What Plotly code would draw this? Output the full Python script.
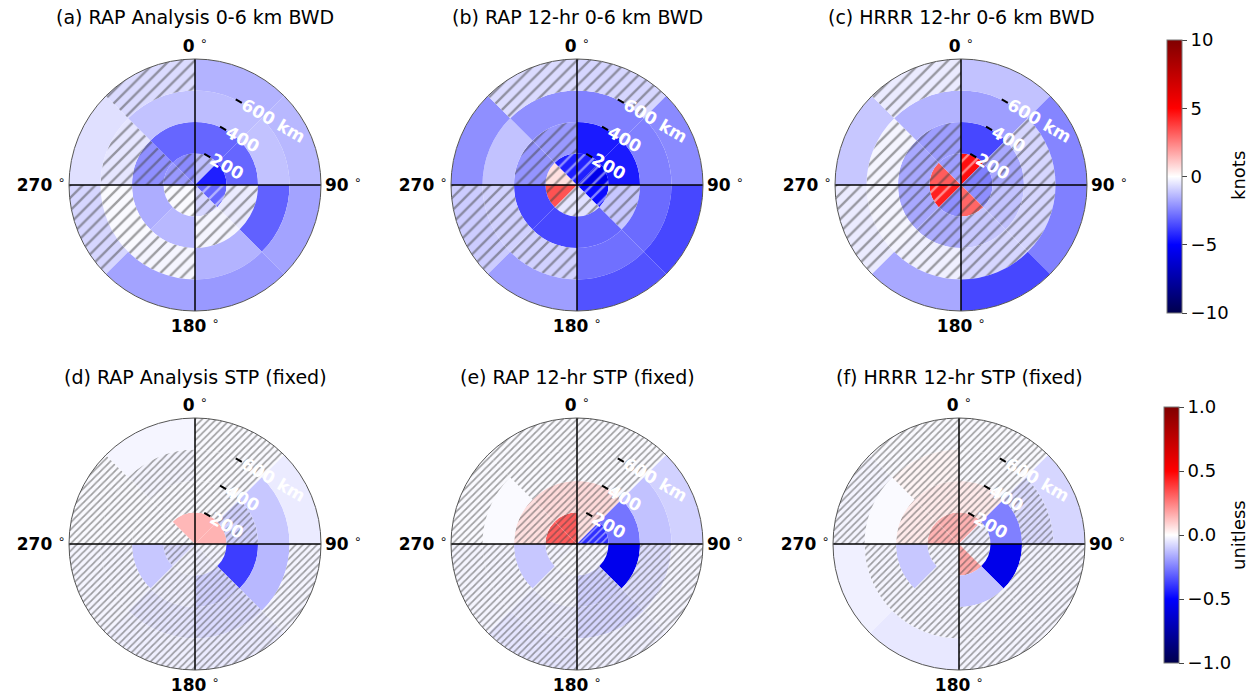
import plotly.graph_objects as go

W, H = 1258, 694

# Radial bins (km) and compass sectors (deg clockwise from north)
RING_EDGES_KM = [0, 200, 400, 600, 800]
SECTOR_CENTERS_DEG = [22.5, 67.5, 112.5, 157.5, 202.5, 247.5, 292.5, 337.5]
SECTOR_WIDTH_DEG = 45
RADIAL_TICKS = [200, 400, 600]
RADIAL_TICKTEXT = ["200", "400", "600 km"]
ANGLE_TICKS = [0, 90, 180, 270]

# Composite differences; rows = rings (inner -> outer), columns = sectors (N, clockwise)
bwd_rap_anl = [
    [-1.3, -4.4, -3.0, -0.8, -0.1, -0.1, -2.0, -2.3],
    [-3.0, -3.0, -0.4, -0.2, -1.4, -1.6, -2.2, -3.0],
    [-1.3, -1.2, -3.1, -1.5, -0.2, -0.1, -0.5, -1.2],
    [-1.5, -1.4, -1.8, -2.0, -1.8, -0.8, -0.6, -0.7],
]
bwd_rap_12h = [
    [-4.4, -5.6, -4.8, -0.6, -0.5, 3.4, 0.6, -4.4],
    [-4.5, -4.5, -1.1, -3.0, -3.6, -3.6, -2.1, -2.0],
    [-2.5, -2.5, -2.9, -2.8, -0.9, -0.9, -1.2, -2.2],
    [-0.8, -2.3, -3.6, -3.4, -1.9, -1.0, -2.2, -0.7],
]
bwd_hrrr_12h = [
    [4.7, -2.5, -2.2, 3.0, -2.2, 4.4, 3.2, -1.9],
    [-3.6, -1.7, -1.2, -1.1, -1.6, -1.7, -1.7, -1.9],
    [-1.9, -0.8, -0.8, -0.8, -0.3, -0.2, -0.2, -1.5],
    [-1.2, -2.4, -2.5, -3.6, -1.7, -0.4, -1.1, -0.4],
]
stp_rap_anl = [
    [0.15, 0.15, -0.02, -0.03, -0.02, -0.07, -0.01, 0.14],
    [-0.01, -0.09, -0.38, -0.09, -0.03, -0.11, -0.01, -0.01],
    [-0.01, -0.11, -0.14, -0.07, -0.05, -0.02, -0.01, -0.02],
    [-0.01, -0.04, -0.02, -0.04, -0.03, -0.02, -0.01, -0.02],
]
stp_rap_12h = [
    [0.06, -0.41, -0.02, -0.02, -0.01, -0.02, 0.32, 0.32],
    [0.07, -0.27, -0.55, -0.09, -0.02, -0.11, 0.06, 0.07],
    [-0.01, -0.12, -0.06, -0.08, -0.04, -0.02, -0.01, -0.01],
    [-0.01, -0.09, -0.02, -0.03, -0.05, -0.02, -0.01, -0.01],
]
stp_hrrr_12h = [
    [0.15, -0.03, -0.02, 0.17, -0.02, -0.02, 0.15, 0.15],
    [0.04, -0.25, -0.56, -0.12, -0.02, -0.11, 0.04, 0.04],
    [-0.01, -0.07, -0.02, -0.02, -0.02, -0.02, -0.01, 0.02],
    [-0.01, -0.08, -0.02, -0.02, -0.045, -0.03, -0.02, -0.01],
]

# 1 = difference not significant (hatched)
bwd_rap_anl_ns = [
    [1, 0, 1, 1, 1, 1, 1, 1],
    [0, 0, 1, 1, 0, 0, 1, 0],
    [0, 0, 0, 0, 1, 1, 1, 0],
    [0, 0, 0, 0, 0, 1, 0, 1],
]
bwd_rap_12h_ns = [
    [1, 1, 1, 1, 1, 1, 1, 1],
    [0, 0, 1, 0, 0, 0, 1, 1],
    [0, 0, 0, 0, 1, 1, 0, 0],
    [1, 0, 0, 0, 0, 1, 0, 1],
]
bwd_hrrr_12h_ns = [
    [1, 1, 1, 1, 1, 1, 1, 1],
    [0, 1, 1, 1, 1, 1, 1, 1],
    [0, 1, 1, 1, 1, 1, 1, 0],
    [0, 0, 0, 0, 0, 1, 0, 1],
]
stp_rap_anl_ns = [
    [0, 0, 1, 1, 1, 1, 1, 0],
    [1, 1, 0, 1, 1, 0, 1, 1],
    [1, 0, 0, 1, 1, 1, 1, 1],
    [1, 0, 1, 1, 1, 1, 1, 0],
]
stp_rap_12h_ns = [
    [1, 1, 1, 1, 1, 1, 1, 1],
    [1, 0, 0, 1, 1, 0, 1, 1],
    [1, 0, 1, 1, 1, 1, 0, 1],
    [1, 0, 1, 1, 1, 1, 1, 1],
]
stp_hrrr_12h_ns = [
    [1, 1, 1, 1, 1, 1, 1, 1],
    [1, 0, 0, 0, 1, 0, 1, 1],
    [1, 1, 1, 1, 1, 1, 0, 1],
    [1, 0, 1, 1, 0, 0, 1, 1],
]

SEISMIC = [
    [0.0, "rgb(0,0,77)"],
    [0.25, "rgb(0,0,255)"],
    [0.5, "rgb(255,255,255)"],
    [0.75, "rgb(255,0,0)"],
    [1.0, "rgb(128,0,0)"],
]

FONT = "DejaVu Sans"

# title, values, hatch mask, colour axis, centre (px), hatch spacing, hatch weight
panels = [
    ("(a) RAP Analysis 0-6 km BWD", bwd_rap_anl, bwd_rap_anl_ns, "coloraxis", 195, 185, 9, 0.26),
    ("(b) RAP 12-hr 0-6 km BWD", bwd_rap_12h, bwd_rap_12h_ns, "coloraxis", 577, 185, 9, 0.26),
    ("(c) HRRR 12-hr 0-6 km BWD", bwd_hrrr_12h, bwd_hrrr_12h_ns, "coloraxis", 961, 185, 9, 0.26),
    ("(d) RAP Analysis STP (fixed)", stp_rap_anl, stp_rap_anl_ns, "coloraxis2", 195, 544, 5, 0.34),
    ("(e) RAP 12-hr STP (fixed)", stp_rap_12h, stp_rap_12h_ns, "coloraxis2", 577, 544, 5, 0.34),
    ("(f) HRRR 12-hr STP (fixed)", stp_hrrr_12h, stp_hrrr_12h_ns, "coloraxis2", 959, 544, 5, 0.34),
]

RADIUS_PX = 126
R_MAX = RING_EDGES_KM[-1]

fig = go.Figure()
layout_polars = {}
annotations = []

for i, (title, vals, ns, cax, cx, cy, hatch_size, hatch_solid) in enumerate(panels):
    pname = "polar" if i == 0 else f"polar{i + 1}"
    for k in range(len(RING_EDGES_KM) - 1):
        inner, outer = RING_EDGES_KM[k], RING_EDGES_KM[k + 1]
        n = len(SECTOR_CENTERS_DEG)
        fig.add_trace(go.Barpolar(
            subplot=pname,
            r=[outer - inner] * n,
            base=[inner] * n,
            theta=SECTOR_CENTERS_DEG,
            width=[SECTOR_WIDTH_DEG] * n,
            marker=dict(
                color=vals[k],
                coloraxis=cax,
                line=dict(width=0),
                pattern=dict(
                    shape=["/" if f else "" for f in ns[k]],
                    fillmode="overlay",
                    fgcolor="black",
                    size=hatch_size,
                    solidity=hatch_solid,
                ),
            ),
            hoverinfo="skip",
            showlegend=False,
        ))
    # N-S and E-W reference lines through the origin
    for a in (0, 90):
        fig.add_trace(go.Scatterpolar(
            subplot=pname,
            r=[R_MAX, R_MAX],
            theta=[a, a + 180],
            mode="lines",
            line=dict(color="black", width=1.5),
            hoverinfo="skip",
            showlegend=False,
        ))

    x0 = (cx - RADIUS_PX) / W
    x1 = (cx + RADIUS_PX) / W
    y0 = 1 - (cy + RADIUS_PX) / H
    y1 = 1 - (cy - RADIUS_PX) / H
    layout_polars[pname] = dict(
        domain=dict(x=[x0, x1], y=[y0, y1]),
        bgcolor="white",
        bargap=0,
        barmode="overlay",
        angularaxis=dict(
            rotation=90,
            direction="clockwise",
            tickmode="array",
            tickvals=ANGLE_TICKS,
            ticktext=[f"<b>{a}</b> <sup>∘</sup>" for a in ANGLE_TICKS],
            tickfont=dict(family=FONT, size=17, color="black"),
            showgrid=False,
            showline=True,
            linecolor="#555555",
            linewidth=1,
            ticks="",
        ),
        radialaxis=dict(
            range=[0, R_MAX],
            tickmode="array",
            tickvals=RADIAL_TICKS,
            ticktext=[f"<b>{t}</b>" for t in RADIAL_TICKTEXT],
            tickfont=dict(family=FONT, size=17, color="white"),
            angle=60,
            tickangle=90,
            side="clockwise",
            showgrid=False,
            showline=False,
            ticks="inside",
            ticklen=7,
            tickwidth=2,
            tickcolor="black",
        ),
    )
    annotations.append(dict(
        text=title, x=cx / W, y=1 - (17 if cy < 300 else 377) / H,
        xref="paper", yref="paper", showarrow=False,
        xanchor="center", yanchor="middle",
        font=dict(family=FONT, size=19, color="black"),
    ))

# Colour bar labels
for label, ymid in (("knots", 176), ("unitless", 535)):
    annotations.append(dict(
        text=label, x=1238 / W, y=1 - ymid / H, xref="paper", yref="paper",
        showarrow=False, textangle=-90, xanchor="center", yanchor="middle",
        font=dict(family=FONT, size=18, color="black"),
    ))

fig.update_layout(
    width=W, height=H,
    margin=dict(l=0, r=0, t=0, b=0),
    paper_bgcolor="white",
    font=dict(family=FONT, color="black"),
    annotations=annotations,
    coloraxis=dict(
        colorscale=SEISMIC, cmin=-10, cmax=10,
        colorbar=dict(
            x=1157 / W, xanchor="left", y=1 - 30 / H, yanchor="top",
            len=293 / H, lenmode="fraction", thickness=15,
            outlinewidth=1, outlinecolor="#777777",
            tickvals=[-10, -5, 0, 5, 10], ticks="outside", ticklen=5,
            tickfont=dict(family=FONT, size=18, color="black"),
        ),
    ),
    coloraxis2=dict(
        colorscale=SEISMIC, cmin=-1, cmax=1,
        colorbar=dict(
            x=1154 / W, xanchor="left", y=1 - 397 / H, yanchor="top",
            len=276 / H, lenmode="fraction", thickness=15,
            outlinewidth=1, outlinecolor="#777777",
            tickvals=[-1, -0.5, 0, 0.5, 1], tickformat=".1f",
            ticks="outside", ticklen=5,
            tickfont=dict(family=FONT, size=18, color="black"),
        ),
    ),
    **layout_polars,
)

fig.write_html("out.html")
